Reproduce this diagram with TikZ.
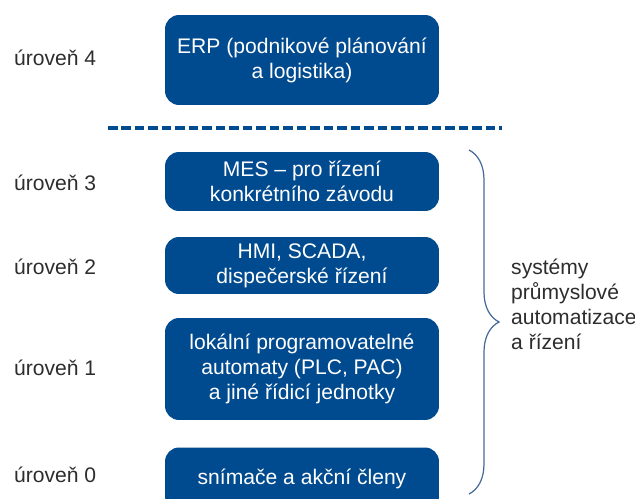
\documentclass[tikz,border=0pt]{standalone}
\usepackage{fontspec}
\setsansfont{Liberation Sans}
\usepackage{tikz}
\usetikzlibrary{positioning, decorations.pathreplacing}
\definecolor{lvlblue}{RGB}{0,74,143}
\definecolor{lvlbrace}{RGB}{70,106,152}
\definecolor{lvltext}{RGB}{45,45,45}

\begin{document}
\begin{tikzpicture}[x=0.02cm, y=-0.02cm,
  box/.style={fill=lvlblue, rounded corners=0.28cm, text=white,
              minimum width=5.48cm, align=center,
              font=\fontsize{12}{14.2}\selectfont\sffamily},
  lvl/.style={anchor=west, text=lvltext, font=\fontsize{12}{14.2}\selectfont\sffamily},
  sep/.style={lvlblue, line width=2.3pt, dash pattern=on 0.19cm off 0.08cm}
]
  \useasboundingbox (0,0) rectangle (635,499);

  %% Level boxes
  \node[box, minimum height=1.8cm]  (erp)  at (302,60)    {ERP (podnikové plánování\\a logistika)};
  \node[box, minimum height=1.18cm] (mes)  at (302,181.5) {MES -- pro řízení\\konkrétního závodu};
  \node[box, minimum height=1.14cm] (hmi)  at (302,265.5) {HMI, SCADA,\\dispečerské řízení};
  \node[box, minimum height=2.04cm] (plc)  at (302,369)   {lokální programovatelné\\automaty (PLC, PAC)\\a jiné řídicí jednotky};
  \node[box, minimum height=1.26cm] (sens) at (302,479)   {snímače a akční členy};

  %% Level labels
  \foreach \n/\k/\yy in {l4/4/58, l3/3/183, l2/2/267, l1/1/368, l0/0/475}{
    \node[lvl] (\n) at (8,\yy) {úroveň \k};
  }

  %% Separator
  \coordinate (sepL) at (108,128);
  \coordinate (sepR) at (502,128);
  \draw[sep] (sepL) -- (sepR);

  %% Brace and its label
  \coordinate (brT) at (469,150);
  \coordinate (brB) at (469,494);
  \draw[lvlbrace, line width=0.7pt, decorate, decoration={brace, amplitude=0.6cm}] (brT) -- (brB);
  \node[lvl, align=left] (sys) at (505,304) {systémy\\průmyslové\\automatizace\\a řízení};
\end{tikzpicture}
\end{document}
